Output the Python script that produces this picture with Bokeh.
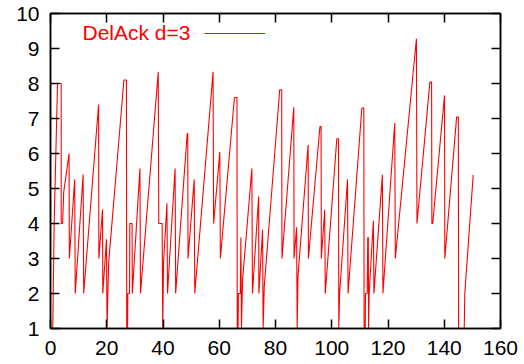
from bokeh.plotting import figure
from bokeh.models import ColumnDataSource, Label, Legend, LegendItem, LinearAxis, Range1d, FixedTicker
from bokeh.embed import file_html
from bokeh.resources import INLINE

# cwnd trace (time, window)
time_s = [0.8, 1.3, 2.5, 3.8, 3.8, 4.3, 4.7, 6.6, 6.7, 8.6, 8.8, 11.6, 11.8, 17.1, 17.2,
          18.5, 18.6, 19.9, 20.1, 20.4, 20.7, 26.1, 27.0, 27.1, 27.4, 27.5, 28.1, 28.2,
          29.0, 29.1, 31.8, 32.0, 38.3, 38.5, 39.7, 39.9, 40.2, 41.4, 41.6, 44.3, 44.5,
          48.6, 48.8, 48.9, 51.1, 51.3, 57.8, 58.0, 60.2, 60.4, 65.4, 66.3, 66.4, 66.7,
          66.8, 67.5, 67.7, 67.9, 68.3, 71.6, 71.8, 74.0, 74.1, 75.4, 75.6, 76.0, 81.5,
          82.2, 82.3, 86.5, 86.6, 87.5, 87.7, 88.0, 91.6, 91.7, 95.8, 96.2, 96.3, 97.5,
          97.7, 101.8, 102.4, 102.5, 102.8, 105.6, 105.8, 110.7, 111.4, 111.5, 111.9,
          112.0, 112.6, 112.8, 113.0, 113.1, 113.3, 114.8, 115.0, 118.0, 118.2, 122.4,
          122.6, 130.1, 130.3, 134.9, 135.5, 135.6, 135.9, 140.1, 140.2, 144.4, 145.0,
          145.1, 147.1, 147.3, 150.3]
cwnd = [1.0, 4.0, 8.0, 8.0, 4.0, 4.0, 4.9, 6.0, 3.0, 5.26, 2.0, 5.4, 2.0, 7.4, 3.0,
        4.4, 2.0, 3.55, 1.0, 2.0, 2.9, 8.1, 8.1, 1.0, 1.0, 2.0, 2.0, 4.0,
        4.0, 2.0, 5.57, 2.0, 8.33, 4.0, 4.0, 1.0, 2.9, 4.58, 2.0, 5.57, 2.0,
        6.57, 6.57, 3.0, 5.26, 2.0, 8.33, 4.0, 6.04, 3.0, 7.6, 7.6, 1.0, 1.0,
        2.0, 2.0, 3.6, 1.0, 2.4, 5.57, 2.0, 4.77, 2.0, 3.82, 1.0, 2.2, 7.82,
        7.82, 3.0, 7.32, 3.0, 3.89, 1.0, 2.5, 6.25, 3.0, 6.77, 6.77, 3.0, 4.39,
        2.0, 6.42, 6.42, 1.0, 2.0, 5.26, 2.0, 7.3, 7.3, 1.0, 1.0,
        2.0, 2.0, 3.6, 3.6, 1.0, 2.0, 4.08, 2.0, 5.39, 2.0, 6.87,
        3.0, 9.28, 4.0, 8.04, 8.04, 4.0, 4.0, 7.66, 3.0, 7.04, 7.04,
        1.0, 1.0, 2.0, 5.39]
series_label = "DelAck d=3"
x_ticks = [0, 20, 40, 60, 80, 100, 120, 140, 160]
y_ticks = [1, 2, 3, 4, 5, 6, 7, 8, 9, 10]

FONT = "Liberation Sans"
RED = "#ff0000"

p = figure(width=524, height=364, output_backend="svg", toolbar_location=None,
           x_range=Range1d(0, 160), y_range=Range1d(1, 10),
           min_border_left=50, min_border_right=24, min_border_top=13, min_border_bottom=36,
           x_axis_location=None, y_axis_location=None)
p.grid.visible = False
p.outline_line_color = "black"
p.outline_line_width = 1.5
p.background_fill_color = "white"
p.border_fill_color = "white"

src = ColumnDataSource(dict(t=time_s, w=cwnd))
r = p.line("t", "w", source=src, line_color=RED, line_width=1.1)

def style(ax, show_labels):
    ax.axis_line_color = "black"
    ax.axis_line_width = 1.5
    ax.major_tick_in = 9
    ax.major_tick_out = 0
    ax.major_tick_line_width = 1.5
    ax.major_tick_line_color = "black"
    ax.minor_tick_line_color = None
    if show_labels:
        ax.major_label_text_font = FONT
        ax.major_label_text_font_size = "21px"
        ax.major_label_text_color = "black"
    else:
        ax.major_label_text_color = None
        ax.major_label_text_font_size = "1px"
        ax.major_label_standoff = 0

xb = LinearAxis(ticker=FixedTicker(ticks=x_ticks))
style(xb, True)
xb.major_label_standoff = 12
p.add_layout(xb, "below")
xa = LinearAxis(ticker=FixedTicker(ticks=x_ticks))
style(xa, False)
p.add_layout(xa, "above")
yl = LinearAxis(ticker=FixedTicker(ticks=y_ticks))
style(yl, True)
yl.major_label_standoff = 11
p.add_layout(yl, "left")
yr = LinearAxis(ticker=FixedTicker(ticks=y_ticks))
style(yr, False)
p.add_layout(yr, "right")

# key: text followed by the sample line (gnuplot style)
p.add_layout(Label(x=32, y=296, x_units="screen", y_units="screen", text=series_label,
                   text_color=RED, text_font=FONT, text_font_size="21px",
                   text_baseline="alphabetic", text_align="left"))
leg = Legend(items=[LegendItem(label=" ", renderers=[r])], location=(154, 290),
             glyph_width=61, glyph_height=10, label_text_font_size="1px",
             label_height=1, label_width=0, label_standoff=0, padding=0, margin=0,
             spacing=0, border_line_color=None, background_fill_alpha=0)
p.add_layout(leg, "center")

open("out.html", "w").write(file_html(p, INLINE))
